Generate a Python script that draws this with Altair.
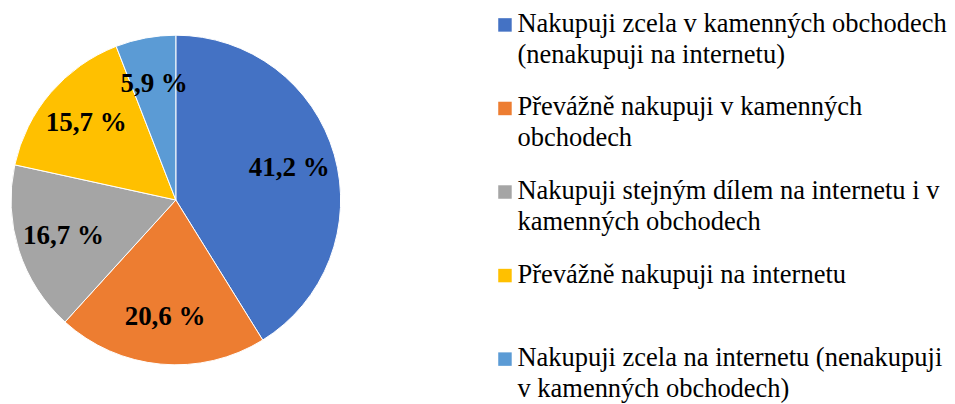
import altair as alt
import pandas as pd

categories = [
    "Nakupuji zcela v kamenných obchodech|(nenakupuji na internetu)",
    "Převážně nakupuji v kamenných|obchodech",
    "Nakupuji stejným dílem na internetu i v|kamenných obchodech",
    "Převážně nakupuji na internetu",
    "Nakupuji zcela na internetu (nenakupuji|v kamenných obchodech)",
]
values = [41.2, 20.6, 16.7, 15.7, 5.9]
labels = ["41,2 %", "20,6 %", "16,7 %", "15,7 %", "5,9 %"]
colors = ["#4472C4", "#ED7D31", "#A5A5A5", "#FFC000", "#5B9BD5"]

df = pd.DataFrame({
    "kategorie": categories,
    "hodnota": values,
    "popisek": labels,
    "poradi": list(range(len(categories))),
})

color_scale = alt.Scale(domain=categories, range=colors)

base = alt.Chart(df).encode(
    theta=alt.Theta("hodnota:Q", stack=True),
    order=alt.Order("poradi:Q"),
)

pie = base.mark_arc(outerRadius=165, stroke="white", strokeWidth=1).encode(
    color=alt.Color("kategorie:N", scale=color_scale, legend=None)
)

text = base.mark_text(
    radius=118,
    font="Liberation Serif",
    fontSize=27,
    fontWeight="bold",
    color="black",
).encode(text="popisek:N")

pie_chart = (pie + text).properties(width=336, height=384)

leg_base = alt.Chart(df).encode(
    y=alt.Y(
        "kategorie:N",
        sort=categories,
        axis=None,
        scale=alt.Scale(type="point", padding=0.2),
    )
)

leg_sym = leg_base.mark_square(size=182, opacity=1).encode(
    x=alt.value(11.5),
    color=alt.Color("kategorie:N", scale=color_scale, legend=None),
)

leg_text = leg_base.mark_text(
    align="left",
    baseline="alphabetic",
    dy=7,
    lineBreak="|",
    lineHeight=31,
    font="Liberation Serif",
    fontSize=26.5,
    color="black",
).encode(x=alt.value(24), text="kategorie:N")

legend_chart = (leg_sym + leg_text).properties(width=440, height=368)

chart = (
    alt.hconcat(pie_chart, legend_chart, spacing=150)
    .properties(padding=0)
    .configure_view(stroke=None)
)

chart.save("out.html", embed_options={"renderer": "svg", "actions": False})
